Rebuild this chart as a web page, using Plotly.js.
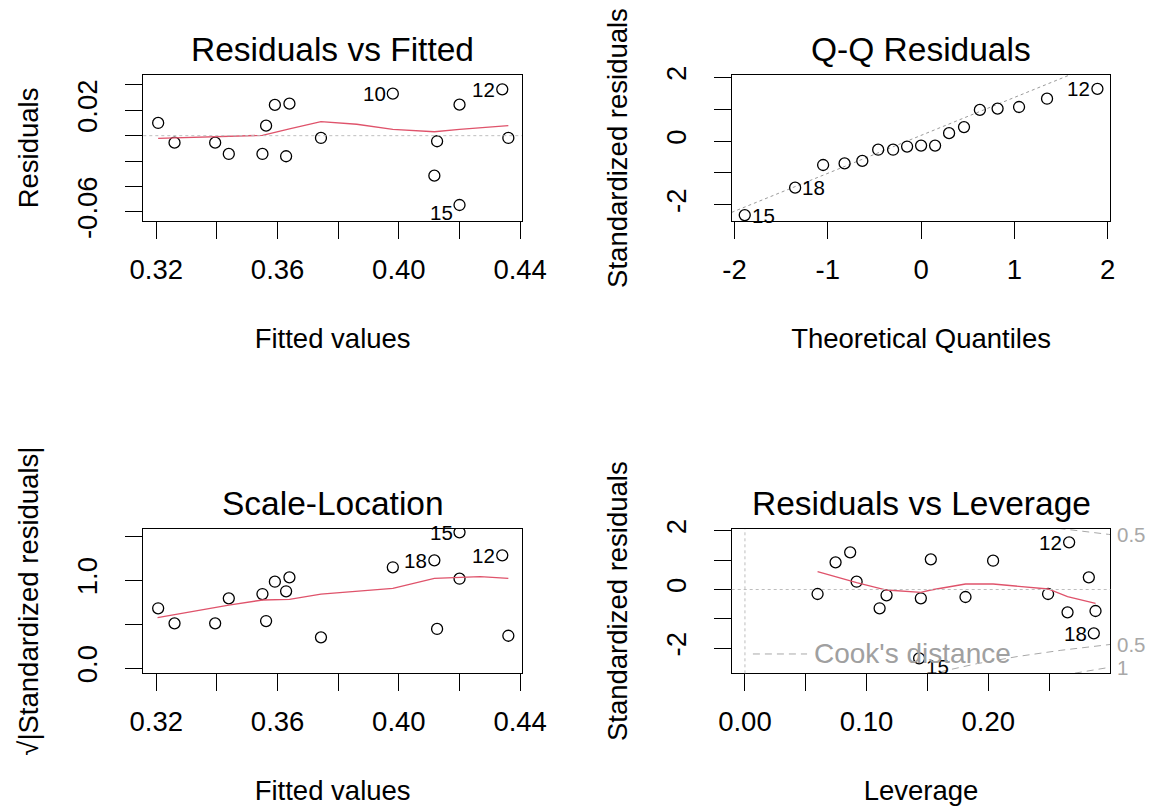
<!DOCTYPE html>
<html>
<head>
<meta charset="utf-8">
<script src="https://cdn.plot.ly/plotly-3.0.1.min.js"></script>
<style>html,body{margin:0;padding:0;background:#fff;}</style>
</head>
<body>
<div id="chart" style="width:1151px;height:808px;"></div>
<script>
// ---------------- DATA ----------------
// Residuals vs Fitted and Scale-Location share the fitted values
const fittedValues = [0.3206,0.3260,0.3394,0.3439,0.3550,0.3562,0.3591,0.3639,0.3628,0.3743,0.3980,0.4126,0.4117,0.4200,0.4200,0.4341,0.4361];
const residuals    = [0.0100,-0.0055,-0.0055,-0.0144,-0.0144,0.0079,0.0242,0.0252,-0.0162,-0.0018,0.0331,-0.0044,-0.0315,0.0244,-0.0546,0.0365,-0.0018];
const sqrtAbsStdResid = [0.682,0.511,0.511,0.795,0.844,0.537,0.984,1.034,0.875,0.352,1.148,0.447,1.227,1.018,1.545,1.284,0.370];
const obsIds = ['','','','','','','','','','','10','','18','','15','12',''];
const rvfShownIds = ['10','15','12'];
const slShownIds  = ['18','15','12'];

// red smoothers
const rvfSmoothX = [0.3206,0.3394,0.3550,0.3639,0.3743,0.3861,0.3980,0.4117,0.4200,0.4361];
const rvfSmoothY = [-0.0021,-0.0008,0.0003,0.0053,0.0110,0.0090,0.0050,0.0031,0.0050,0.0079];
const slSmoothX  = [0.3204,0.3439,0.3550,0.3639,0.3743,0.3980,0.4117,0.4268,0.4361];
const slSmoothY  = [0.575,0.719,0.776,0.784,0.844,0.909,1.023,1.041,1.023];

// Q-Q residuals
const qqTheoretical = [-1.89,-1.35,-1.05,-0.82,-0.63,-0.46,-0.30,-0.15,0.00,0.15,0.30,0.46,0.63,0.82,1.05,1.35,1.89];
const qqStdResid    = [-2.32,-1.46,-0.75,-0.70,-0.62,-0.27,-0.27,-0.17,-0.14,-0.14,0.25,0.44,0.98,1.02,1.07,1.33,1.64];
const qqIds = ['15','18','','','','','','','','','','','','','','','12'];
const qqLineIntercept = 0.18;
const qqLineSlope = 1.19;

// Residuals vs Leverage
const leverage    = [0.0597,0.0745,0.0865,0.0918,0.1107,0.1164,0.1446,0.1528,0.1813,0.2040,0.2492,0.2665,0.2652,0.2827,0.2882,0.2868,0.1432];
const rvlStdResid = [-0.153,0.925,1.265,0.265,-0.639,-0.197,-0.299,1.027,-0.255,0.980,-0.153,1.605,-0.776,0.415,-0.731,-1.490,-2.340];
const rvlIds = ['','','','','','','','','','','','12','','','','18','15'];
const rvlSmoothX = [0.0597,0.0745,0.0918,0.1164,0.1446,0.1528,0.1813,0.2040,0.2492,0.2652,0.2882];
const rvlSmoothY = [0.605,0.435,0.231,-0.017,-0.095,-0.017,0.187,0.187,0.017,-0.245,-0.469];
const cookLevels = [0.5, 1];
const nParams = 3;

// tick labels
const rvfXTicks = [0.32,0.34,0.36,0.38,0.40,0.42,0.44];
const rvfXText  = ['0.32','','0.36','','0.40','','0.44'];
const rvfYTicks = [-0.06,-0.04,-0.02,0,0.02,0.04];
const rvfYText  = ['-0.06','','','','0.02',''];
const qqXTicks = [-2,-1,0,1,2];
const qqXText  = ['-2','-1','0','1','2'];
const stdYTicks = [-2,-1,0,1,2];
const stdYText  = ['-2','','0','','2'];
const slYTicks = [0,0.5,1,1.5];
const slYText  = ['0.0','','1.0',''];
const levXTicks = [0,0.05,0.10,0.15,0.20,0.25];
const levXText  = ['0.00','','0.10','','0.20',''];

// ---------------- STYLE ----------------
const FONT = 'Liberation Sans, Arial, Helvetica, sans-serif';
const BASE = 27.5;
const RED = '#DF536B';
const GREY = '#BEBEBE';
const COOK = '#A8A8A8';

const ranges = {
  x1:[0.3157,0.4406], y1:[-0.0672,0.0478],
  x2:[-2.03,2.03],    y2:[-2.506,2.075],
  x3:[0.3157,0.4406], y3:[-0.057,1.583],
  x4:[-0.0109,0.3005],y4:[-2.85,2.058]
};

function ax(extra){
  return Object.assign({
    showgrid:false, zeroline:false, showline:true, mirror:true,
    linecolor:'#000', linewidth:1,
    ticks:'outside', ticklen:17, tickwidth:1, tickcolor:'#000',
    tickfont:{family:FONT, size:BASE, color:'#000'},
    ticklabelstandoff:7, tickmode:'array', fixedrange:true
  }, extra);
}
function yax(extra){ return ax(Object.assign({tickangle:-90, ticklabelstandoff:17}, extra)); }
function xt(text){ return {text:text, font:{family:FONT,size:BASE,color:'#000'}, standoff:44}; }
function yt(text){ return {text:text, font:{family:FONT,size:BASE,color:'#000'}, standoff:25}; }

const pts = {type:'scatter', mode:'markers', hoverinfo:'skip',
  marker:{symbol:'circle-open', size:11, color:'#000', line:{width:1.3, color:'#000'}}};
const smooth = {type:'scatter', mode:'lines', hoverinfo:'skip', line:{color:RED, width:1.3}};

const traces = [];
// panel 1
traces.push(Object.assign({}, pts, {x:fittedValues, y:residuals, xaxis:'x', yaxis:'y'}));
traces.push(Object.assign({}, smooth, {x:rvfSmoothX, y:rvfSmoothY, xaxis:'x', yaxis:'y'}));
// panel 2
traces.push({type:'scatter', mode:'lines', hoverinfo:'skip', xaxis:'x2', yaxis:'y2',
  x:[ranges.x2[0], ranges.x2[1]],
  y:[qqLineIntercept + qqLineSlope*ranges.x2[0], qqLineIntercept + qqLineSlope*ranges.x2[1]],
  line:{color:'#9A9A9A', width:1, dash:'dot'}});
traces.push(Object.assign({}, pts, {x:qqTheoretical, y:qqStdResid, xaxis:'x2', yaxis:'y2'}));
// panel 3
traces.push(Object.assign({}, pts, {x:fittedValues, y:sqrtAbsStdResid, xaxis:'x3', yaxis:'y3'}));
traces.push(Object.assign({}, smooth, {x:slSmoothX, y:slSmoothY, xaxis:'x3', yaxis:'y3'}));
// panel 4: Cook's distance contours
const hGrid = [];
for (let i = 0; i <= 200; i++) hGrid.push(0.005 + (ranges.x4[1] - 0.005) * i / 200);
cookLevels.forEach(c => {
  [1,-1].forEach(sgn => {
    traces.push({type:'scatter', mode:'lines', hoverinfo:'skip', xaxis:'x4', yaxis:'y4',
      x:hGrid, y:hGrid.map(h => sgn*Math.sqrt(c*nParams*(1-h)/h)),
      line:{color:COOK, width:1, dash:'7px,5px'}});
  });
});
traces.push(Object.assign({}, pts, {x:leverage, y:rvlStdResid, xaxis:'x4', yaxis:'y4'}));
traces.push(Object.assign({}, smooth, {x:rvlSmoothX, y:rvlSmoothY, xaxis:'x4', yaxis:'y4'}));

// annotations
const ann = [];
function title(t, xr, yr){
  ann.push({text:t, xref:xr+' domain', yref:yr+' domain', x:0.5, y:1, xanchor:'center', yanchor:'bottom',
    yshift:5, showarrow:false, font:{family:FONT, size:33.5, color:'#000'}});
}
title('Residuals vs Fitted','x','y');
title('Q-Q Residuals','x2','y2');
title('Scale-Location','x3','y3');
title('Residuals vs Leverage','x4','y4');

function ptLabel(xv, yv, txt, xr, yr, side, dy){
  ann.push({text:txt, x:xv, y:yv, xref:xr, yref:yr, showarrow:false,
    xanchor: side==='left' ? 'right' : 'left', xshift: side==='left' ? -5 : 5, yshift: dy||0,
    yanchor:'middle', font:{family:FONT, size:20.5, color:'#000'}});
}
fittedValues.forEach((f,i) => {
  const id = obsIds[i];
  if (rvfShownIds.includes(id)) ptLabel(f, residuals[i], id, 'x', 'y', 'left', id==='15' ? -8 : 0);
  if (slShownIds.includes(id)) ptLabel(f, sqrtAbsStdResid[i], id, 'x3', 'y3', 'left', 0);
});
qqTheoretical.forEach((q,i) => {
  if (qqIds[i]) ptLabel(q, qqStdResid[i], qqIds[i], 'x2', 'y2', q < 0 ? 'right' : 'left', 0);
});
const levMid = (Math.max(...leverage) + Math.min(...leverage)) / 2;
leverage.forEach((h,i) => {
  if (rvlIds[i]) ptLabel(h, rvlStdResid[i], rvlIds[i], 'x4', 'y4',
    h < levMid ? 'right' : 'left', rvlIds[i]==='15' ? -8 : 0);
});
// Cook's distance level labels on right margin
const hMax = ranges.x4[1];
cookLevels.forEach(c => {
  [1,-1].forEach(sgn => {
    const yv = sgn*Math.sqrt(c*nParams*(1-hMax)/hMax);
    if (yv >= ranges.y4[0] && yv <= ranges.y4[1]) {
      ann.push({text:String(c), xref:'x4 domain', x:1, yref:'y4', y:yv, xanchor:'left', xshift:5,
        yanchor:'middle', showarrow:false, font:{family:FONT, size:20.5, color:COOK}});
    }
  });
});
// Cook's distance legend
ann.push({text:"Cook's distance", xref:'x4 domain', x:0.212, yref:'y4 domain', y:0.134,
  xanchor:'left', yanchor:'middle', showarrow:false, font:{family:FONT, size:28, color:'#A0A0A0'}});

const shapes = [
  {type:'line', xref:'x domain', x0:0, x1:1, yref:'y', y0:0, y1:0, line:{color:GREY, width:1, dash:'dot'}},
  {type:'line', xref:'x4 domain', x0:0, x1:1, yref:'y4', y0:0, y1:0, line:{color:GREY, width:1, dash:'dot'}},
  {type:'line', xref:'x4', x0:0, x1:0, yref:'y4 domain', y0:0, y1:1, line:{color:GREY, width:1, dash:'dot'}},
  {type:'line', xref:'x4 domain', x0:0.056, x1:0.199, yref:'y4 domain', y0:0.134, y1:0.134, line:{color:COOK, width:1, dash:'7px,5px'}}
];

const xd1 = [0.1245,0.4535], xd2 = [0.6357,0.9648];
const yd1 = [0.7265,0.9072], yd2 = [0.1667,0.3453];

const layout = {
  width:1151, height:808, margin:{l:0,r:0,t:0,b:0},
  paper_bgcolor:'#fff', plot_bgcolor:'#fff', showlegend:false,
  xaxis:  ax({domain:xd1, anchor:'y',  range:ranges.x1, tickvals:rvfXTicks, ticktext:rvfXText, title:xt('Fitted values')}),
  yaxis:  yax({domain:yd1, anchor:'x',  range:ranges.y1, tickvals:rvfYTicks, ticktext:rvfYText, title:yt('Residuals')}),
  xaxis2: ax({domain:xd2, anchor:'y2', range:ranges.x2, tickvals:qqXTicks, ticktext:qqXText, title:xt('Theoretical Quantiles')}),
  yaxis2: yax({domain:yd1, anchor:'x2', range:ranges.y2, tickvals:stdYTicks, ticktext:stdYText, title:yt('Standardized residuals')}),
  xaxis3: ax({domain:xd1, anchor:'y3', range:ranges.x3, tickvals:rvfXTicks, ticktext:rvfXText, title:xt('Fitted values')}),
  yaxis3: yax({domain:yd2, anchor:'x3', range:ranges.y3, tickvals:slYTicks, ticktext:slYText, title:yt('√|Standardized residuals|')}),
  xaxis4: ax({domain:xd2, anchor:'y4', range:ranges.x4, tickvals:levXTicks, ticktext:levXText, title:xt('Leverage')}),
  yaxis4: yax({domain:yd2, anchor:'x4', range:ranges.y4, tickvals:stdYTicks, ticktext:stdYText, title:yt('Standardized residuals')}),
  annotations:ann, shapes:shapes
};

Plotly.newPlot('chart', traces, layout, {displayModeBar:false, staticPlot:true});
</script>
</body>
</html>
